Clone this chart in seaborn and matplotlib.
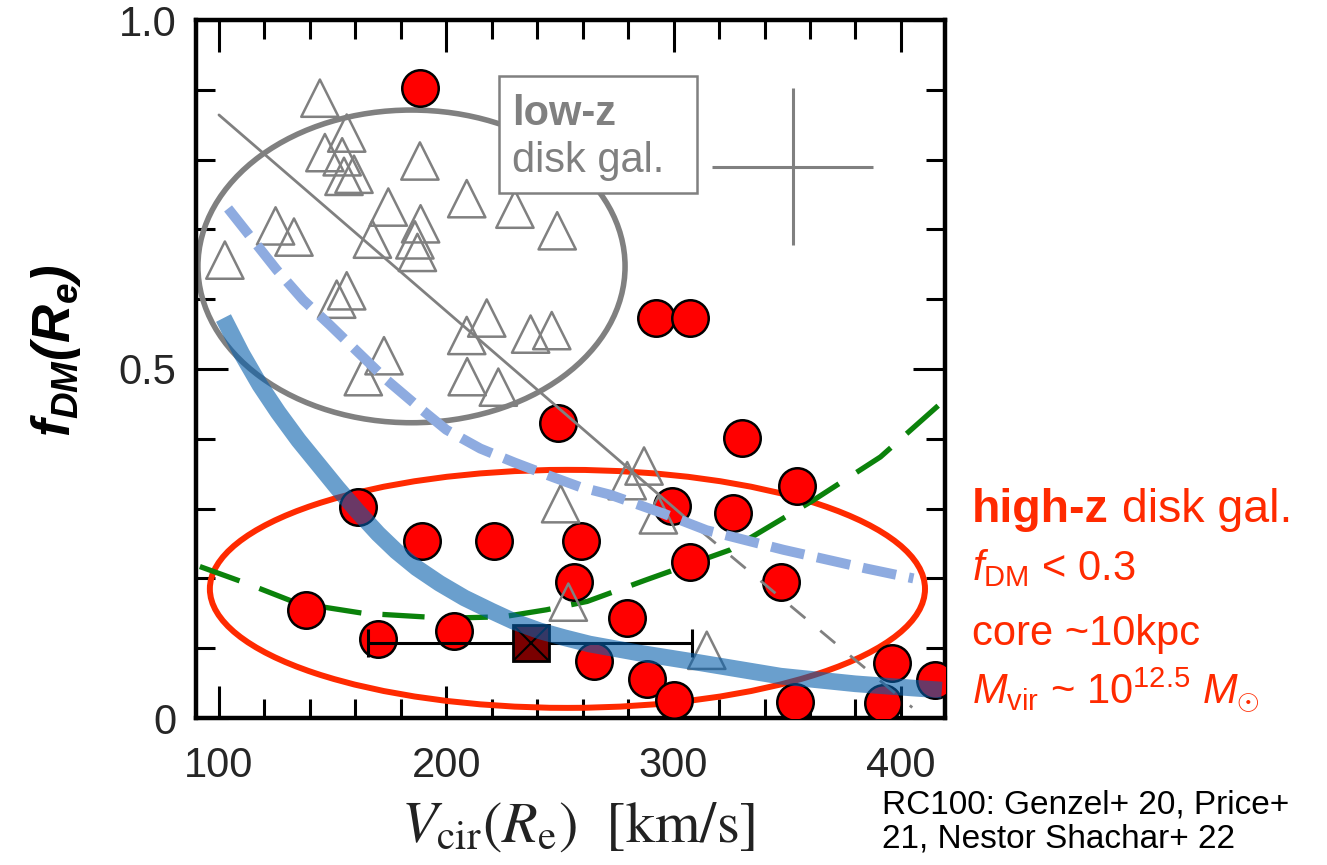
import numpy as np
import pandas as pd
import matplotlib
matplotlib.use("Agg")
import matplotlib.pyplot as plt
from matplotlib.patches import Ellipse, Rectangle
from matplotlib.ticker import MultipleLocator, FixedLocator, FixedFormatter
import seaborn as sns

# ---------------- data ----------------
# high-z disk galaxies (red circles)
hz_vcir = [188.4, 249.0, 292.3, 307.2, 330.0, 354.3, 299.3, 326.1, 307.2, 347.2,
           279.5, 265.0, 288.3, 300.2, 353.4, 396.0, 392.0, 415.0, 161.2, 189.3,
           221.0, 259.3, 256.2, 138.3, 170.0, 203.4]
hz_fdm = [0.903, 0.422, 0.573, 0.573, 0.401, 0.332, 0.304, 0.293, 0.224, 0.195,
          0.143, 0.082, 0.056, 0.026, 0.023, 0.079, 0.021, 0.054, 0.302, 0.254,
          0.254, 0.254, 0.195, 0.155, 0.113, 0.125]

# low-z disk galaxies (open grey triangles)
lz_vcir = [144.4, 156.2, 146.6, 154.2, 155.0, 159.4, 188.4, 209.0, 230.2, 248.8,
           174.5, 188.7, 186.2, 187.3, 167.5, 124.9, 133.0, 102.6, 151.8, 156.2,
           209.0, 217.8, 237.1, 246.4, 172.6, 163.5, 209.2, 222.9, 250.3, 253.7,
           287.0, 279.6, 293.3, 314.6]
lz_fdm = [0.888, 0.838, 0.810, 0.804, 0.776, 0.779, 0.798, 0.744, 0.729, 0.698,
          0.732, 0.708, 0.685, 0.667, 0.686, 0.705, 0.689, 0.656, 0.600, 0.612,
          0.548, 0.573, 0.550, 0.555, 0.519, 0.489, 0.489, 0.474, 0.307, 0.166,
          0.361, 0.340, 0.291, 0.097]

# stacked / median point with error bar
stack_v = [237.3]
stack_f = [0.108]
stack_xerr_lo = [71.8]
stack_xerr_hi = [70.7]

# typical error cross (low-z)
err_v = [352.5]
err_f = [0.79]
err_dv = [35.4]
err_df = [0.112]

# low-z trend (grey line, solid then dashed extrapolation)
trend_v_solid = [100.0, 312.0]
trend_f_solid = [0.864, 0.268]
trend_v_dash = [312.0, 405.0]
trend_f_dash = [0.268, 0.015]

# model curve: light-blue dashed
mdash_v = [104.0, 125.4, 137.0, 148.8, 163.4, 173.9, 188.0, 200.0, 215.0, 230.0,
           247.0, 258.8, 272.0, 295.5, 314.5, 348.3, 385.0, 405.5]
mdash_f = [0.730, 0.642, 0.599, 0.563, 0.517, 0.484, 0.445, 0.413, 0.386, 0.366,
           0.345, 0.331, 0.320, 0.293, 0.269, 0.241, 0.214, 0.200]

# model curve: blue solid
msol_v = [102.0, 110.0, 118.0, 126.0, 135.0, 144.0, 152.0, 160.7, 170.0, 178.0,
          187.0, 197.0, 208.0, 220.0, 230.0, 241.0, 252.0, 263.0, 285.0, 310.0,
          347.0, 380.0, 405.0, 418.0]
msol_f = [0.573, 0.522, 0.477, 0.438, 0.398, 0.362, 0.330, 0.297, 0.264, 0.239,
          0.215, 0.193, 0.172, 0.153, 0.138, 0.125, 0.115, 0.106, 0.093, 0.080,
          0.060, 0.049, 0.043, 0.040]

# model curve: green dashed
mgr_v = [91.6, 112.0, 134.0, 163.5, 200.0, 225.0, 244.0, 262.0, 288.0, 325.0,
         361.5, 391.0, 419.0]
mgr_f = [0.217, 0.193, 0.165, 0.150, 0.143, 0.145, 0.155, 0.167, 0.198, 0.241,
         0.312, 0.374, 0.455]

xticks_major = [100, 200, 300, 400]
xtick_labels = ["100", "200", "300", "400"]
yticks_major = [0.0, 0.5, 1.0]
ytick_labels = ["0", "0.5", "1.0"]

# ---------------- style ----------------
sns.set_style("white")
plt.rcParams["font.family"] = ["Liberation Sans", "DejaVu Sans"]
plt.rcParams["mathtext.fontset"] = "custom"
plt.rcParams["mathtext.rm"] = "Liberation Sans"
plt.rcParams["mathtext.it"] = "Liberation Sans:italic"
plt.rcParams["mathtext.bf"] = "Liberation Sans:bold"
try:
    plt.rcParams["mathtext.bfit"] = "Liberation Sans:italic:bold"
except KeyError:
    pass

W, H = 1327, 865
fig = plt.figure(figsize=(W / 100, H / 100), dpi=100)
ax = fig.add_axes([196 / W, (H - 718) / H, (945 - 196) / W, (718 - 20) / H])

RED = "#ff2a00"
GREY = "#808080"

# ellipses
ax.add_patch(Ellipse((184.7, 0.647), 187.9, 0.448, fill=False, ec=GREY, lw=4.0, zorder=1.5))
ax.add_patch(Ellipse((253.3, 0.185), 314.6, 0.341, fill=False, ec=RED, lw=4.3, zorder=1.5))

# green dashed model
sns.lineplot(x=mgr_v, y=mgr_f, ax=ax, sort=False, estimator=None, color="#0b820b",
             lw=3.8, linestyle=(0, (8, 4)), dash_capstyle="butt", zorder=2)

# red circles
sns.scatterplot(x=hz_vcir, y=hz_fdm, ax=ax, s=690, color="#ff0000", edgecolor="black",
                linewidth=1.8, marker="o", zorder=3)

# grey triangles
sns.scatterplot(x=lz_vcir, y=lz_fdm, ax=ax, s=720, marker="^", facecolor="none",
                edgecolor=GREY, linewidth=1.8, zorder=4)

# grey trend
sns.lineplot(x=trend_v_solid, y=trend_f_solid, ax=ax, sort=False, estimator=None,
             color=GREY, lw=2.0, zorder=4)
sns.lineplot(x=trend_v_dash, y=trend_f_dash, ax=ax, sort=False, estimator=None,
             color=GREY, lw=2.0, linestyle=(0, (7, 7)), zorder=4)

# light-blue dashed model
sns.lineplot(x=mdash_v, y=mdash_f, ax=ax, sort=False, estimator=None, color="#8eabe0",
             lw=7.2, linestyle=(0, (3.4, 1.3)), dash_capstyle="butt", zorder=5)

# stacked point
ax.errorbar(stack_v, stack_f, xerr=[stack_xerr_lo, stack_xerr_hi], fmt="none",
            ecolor="black", elinewidth=2.2, capsize=10, capthick=2.2, zorder=5.5)
ax.plot(stack_v, stack_f, marker="s", ms=26, mfc="#7a0000", mec="black", mew=2, ls="none", zorder=5.6)
ax.plot(stack_v, stack_f, marker="x", ms=24, mec="black", mew=1.5, ls="none", zorder=5.7)

# blue solid model
sns.lineplot(x=msol_v, y=msol_f, ax=ax, sort=False, estimator=None, color="#075fac",
             alpha=0.6, lw=12, solid_capstyle="butt", solid_joinstyle="round", zorder=6)

# error cross
ax.errorbar(err_v, err_f, xerr=err_dv, yerr=err_df, fmt="none", ecolor=GREY,
            elinewidth=2.2, capsize=0, zorder=4)

# low-z label box
ax.add_patch(Rectangle((223.2, 0.752), 87.1, 0.168, fill=True, fc="white", ec=GREY,
                       lw=1.8, zorder=4.5))
ax.text(228.9, 0.850, "low-z", color=GREY, fontsize=30, fontweight="bold",
        va="baseline", ha="left", zorder=4.6)
ax.text(228.9, 0.782, "disk gal.", color=GREY, fontsize=30,
        va="baseline", ha="left", zorder=4.6)

# ---------------- axes ----------------
ax.set_xlim(89.9, 419.4)
ax.set_ylim(0, 1.0)
ax.xaxis.set_major_locator(FixedLocator(xticks_major))
ax.xaxis.set_major_formatter(FixedFormatter(xtick_labels))
ax.xaxis.set_minor_locator(MultipleLocator(20))
ax.yaxis.set_major_locator(FixedLocator(yticks_major))
ax.yaxis.set_major_formatter(FixedFormatter(ytick_labels))
ax.yaxis.set_minor_locator(MultipleLocator(0.1))
ax.tick_params(which="both", direction="in", top=True, right=True, bottom=True, left=True,
               width=2.2, color="black")
ax.tick_params(which="major", length=23, labelsize=30, pad=14)
ax.tick_params(which="minor", length=14)
ax.tick_params(axis="x", which="major", pad=20)
for sp in ax.spines.values():
    sp.set_linewidth(3.2)
    sp.set_color("black")
ax.set_xlabel("")
ax.set_ylabel("")

# axis labels
fig.text(56 / W, (H - 351) / H, r"$\mathbfit{f_{DM}(R_e)}$", rotation=90,
         ha="center", va="center", fontsize=38, color="black")
fig.text(578 / W, (H - 842) / H, r"$V_{\rm cir}(R_{\rm e})\ \ [{\rm km/s}]$",
         ha="center", va="baseline", fontsize=42, color="#222222", math_fontfamily="stix")

# red annotation
t1 = fig.text(972 / W, (H - 522) / H, "high-z", color=RED, fontsize=33.5,
              fontweight="bold", ha="left", va="baseline")
ax.annotate(" disk gal.", xy=(1, 0), xycoords=t1, color=RED, fontsize=33.5,
            ha="left", va="bottom", annotation_clip=False)
fig.text(972 / W, (H - 580) / H, r"$f_{\rm DM}$ < 0.3", color=RED, fontsize=30,
         ha="left", va="baseline")
fig.text(972 / W, (H - 645) / H, "core ~10kpc", color=RED, fontsize=30,
         ha="left", va="baseline")
fig.text(972 / W, (H - 703) / H, r"$M_{\rm vir}$ ~ 10$^{12.5}$ $M_{\odot}$", color=RED,
         fontsize=30, ha="left", va="baseline")

# footnote
fig.text(882 / W, (H - 813) / H, "RC100: Genzel+ 20, Price+", color="black",
         fontsize=24, ha="left", va="baseline")
fig.text(882 / W, (H - 848) / H, "21, Nestor Shachar+ 22", color="black",
         fontsize=24, ha="left", va="baseline")

fig.savefig("out.png", dpi=100)
